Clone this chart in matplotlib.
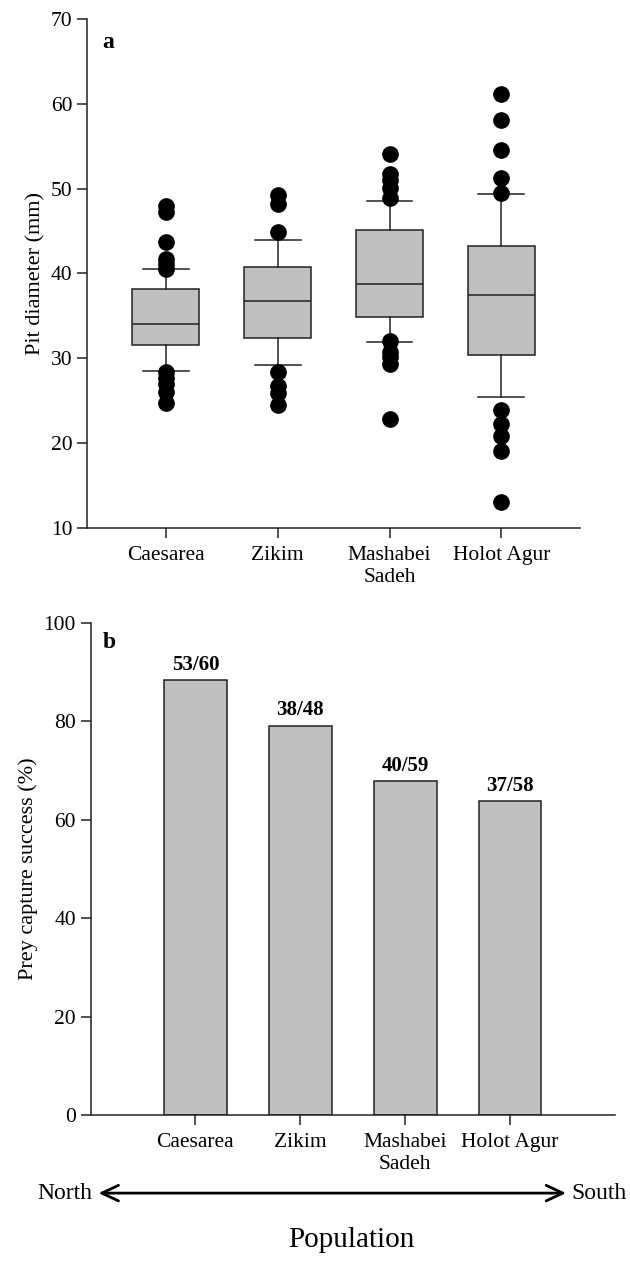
import numpy as np
import matplotlib
matplotlib.use('Agg')
import matplotlib.pyplot as plt

plt.rcParams['font.family'] = ['Liberation Serif', 'DejaVu Serif']

# populations, north to south
populations = ['Caesarea', 'Zikim', 'Mashabei\nSadeh', 'Holot Agur']

# panel a: pit diameter (mm) box summaries
q1 = [31.6, 32.4, 34.9, 30.4]
med = [34.1, 36.8, 38.8, 37.5]
q3 = [38.2, 40.8, 45.1, 43.2]
whislo = [28.5, 29.2, 31.9, 25.4]
whishi = [40.5, 44.0, 48.6, 49.4]
outliers = [
    [48.0, 47.2, 43.7, 41.7, 41.1, 40.5, 28.4, 27.7, 27.0, 26.0, 24.7],
    [49.3, 48.2, 44.9, 28.4, 26.7, 25.9, 24.5],
    [54.1, 51.7, 51.0, 50.1, 48.9, 32.0, 30.7, 30.1, 29.3, 22.8],
    [61.2, 58.1, 54.5, 51.3, 49.5, 23.9, 22.3, 20.8, 19.1, 13.1],
]

# panel b: prey capture success
successes = [53, 38, 40, 37]
trials = [60, 48, 59, 58]

box_color = '#c0c0c0'

fig = plt.figure(figsize=(6.3, 12.69), dpi=100)
ax1 = fig.add_axes([0.138, 0.584, 0.783, 0.401])
ax2 = fig.add_axes([0.1437, 0.1214, 0.8323, 0.3876])

#--- panel a
stats = []
for i in range(len(populations)):
    stats.append(dict(med=med[i], q1=q1[i], q3=q3[i], whislo=whislo[i],
                      whishi=whishi[i], fliers=outliers[i]))
pos = np.arange(1, len(populations) + 1)
ax1.bxp(stats, positions=pos, widths=0.6, patch_artist=True,
        boxprops=dict(facecolor=box_color, edgecolor='#222222', linewidth=1.1),
        medianprops=dict(color='#222222', linewidth=1.1),
        whiskerprops=dict(color='#222222', linewidth=1.1),
        capprops=dict(color='#222222', linewidth=1.1),
        capwidths=0.41,
        flierprops=dict(marker='o', markerfacecolor='black', markeredgecolor='black',
                        markersize=11, linestyle='none'))
ax1.set_xlim(0.295, 4.705)
ax1.set_ylim(10, 70)
ax1.set_yticks(np.arange(10, 71, 10))
ax1.set_xticks(pos)
ax1.set_xticklabels(populations)
ax1.set_ylabel('Pit diameter (mm)', fontsize=16)
ax1.text(0.032, 0.975, 'a', transform=ax1.transAxes, fontsize=17,
         fontweight='bold', va='top', ha='left')

#--- panel b
pct = [100.0 * s / n for s, n in zip(successes, trials)]
ax2.bar(pos, pct, width=0.6, color=box_color, edgecolor='#222222', linewidth=1.1)
for x, p, s, n in zip(pos, pct, successes, trials):
    ax2.annotate(f'{s}/{n}', (x, p), xytext=(0, 4), textcoords='offset points',
                 ha='center', va='bottom', fontsize=15, fontweight='bold')
ax2.set_xlim(0, 5)
ax2.set_ylim(0, 100)
ax2.set_yticks(np.arange(0, 101, 20))
ax2.set_xticks(pos)
ax2.set_xticklabels(populations)
ax2.set_ylabel('Prey capture success (%)', fontsize=16)
ax2.text(0.024, 0.982, 'b', transform=ax2.transAxes, fontsize=17,
         fontweight='bold', va='top', ha='left')

for ax in (ax1, ax2):
    ax.spines['top'].set_visible(False)
    ax.spines['right'].set_visible(False)
    for s in ('left', 'bottom'):
        ax.spines[s].set_linewidth(1.1)
        ax.spines[s].set_color('#222222')
    ax.tick_params(direction='out', length=7, width=1.1, labelsize=15.5,
                   color='#222222')
    ax.tick_params(axis='x', pad=6)

# north-south arrow and axis title
fig.patches.append(matplotlib.patches.FancyArrowPatch(
    (0.152, 0.0598), (0.903, 0.0598), transform=fig.transFigure,
    arrowstyle='<->,head_length=0.6,head_width=0.28', mutation_scale=20,
    linewidth=2, color='black'))
fig.text(0.147, 0.0598, 'North', ha='right', va='center', fontsize=17)
fig.text(0.907, 0.0598, 'South', ha='left', va='center', fontsize=17)
fig.text(0.558, 0.023, 'Population', ha='center', va='center', fontsize=21)

fig.savefig('out.png', dpi=100)
